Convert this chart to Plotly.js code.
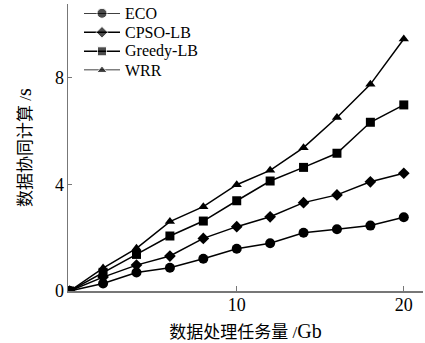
<!DOCTYPE html>
<html><head><meta charset="utf-8">
<script src="https://cdn.plot.ly/plotly-3.0.1.min.js"></script>
<style>html,body{margin:0;padding:0;background:#fff}#chart{width:425px;height:343px}</style>
</head><body><div id="chart"></div>
<script>
const xVals = [0, 2, 4, 6, 8, 10, 12, 14, 16, 18, 20];
const eco = [0, 0.28, 0.69, 0.87, 1.21, 1.58, 1.79, 2.18, 2.31, 2.45, 2.76];
const cpso = [0, 0.52, 0.97, 1.31, 1.97, 2.41, 2.78, 3.31, 3.6, 4.09, 4.41];
const greedy = [0, 0.7, 1.37, 2.06, 2.62, 3.38, 4.12, 4.63, 5.16, 6.32, 6.97];
const wrr = [0, 0.86, 1.6, 2.6, 3.16, 3.98, 4.52, 5.37, 6.5, 7.74, 9.44];
const names = ["ECO", "CPSO-LB", "Greedy-LB", "WRR"];
const symbols = ["circle", "diamond", "square", "triangle-up"];
const sizes = [10, 9, 9, 9];
const series = [eco, cpso, greedy, wrr];
const xTicks = [10, 20];
const yTicks = [0, 4, 8];

const serif = "Liberation Serif, Times New Roman, Noto Sans CJK SC, serif";
const traces = series.map((s, i) => ({
  x: xVals, y: s, name: names[i], type: "scatter", mode: "lines+markers",
  showlegend: false,
  line: {color: "#000", width: 1.5},
  marker: {symbol: symbols[i], size: sizes[i], color: "#000"}
}));

// custom legend drawn on an overlay axis for tight row spacing
const legendTraces = names.map((n, i) => ({
  x: [0, 0.5, 1], y: [i, i, i], xaxis: "x2", yaxis: "y2", type: "scatter",
  mode: "lines+markers", showlegend: false, cliponaxis: false, hoverinfo: "skip",
  line: {color: "#000", width: 1.5},
  marker: {symbol: symbols[i], size: [0, sizes[i], 0], color: "#000"}
}));
const legendLabels = names.map((n, i) => ({
  xref: "x2", yref: "y2", x: 1, y: i, text: n, showarrow: false,
  xanchor: "left", yanchor: "middle", xshift: 4, borderpad: 0,
  font: {family: serif, size: 16, color: "#000"}
}));

const layout = {
  width: 425, height: 343,
  margin: {l: 68, r: 2, t: 4, b: 52},
  paper_bgcolor: "#fff", plot_bgcolor: "#fff",
  font: {family: serif, size: 18, color: "#000"},
  showlegend: false,
  xaxis: {
    range: [-0.1, 21.15], tickvals: xTicks, ticktext: xTicks.map(String),
    showgrid: false, zeroline: false, showline: true, linecolor: "#777", linewidth: 1.5,
    ticks: "inside", ticklen: 5, tickcolor: "#777", ticklabelstandoff: -3,
    tickfont: {family: serif, size: 18},
    title: {text: "数据处理任务量 /<span style='font-size:20px'>Gb</span>", font: {family: serif, size: 17}, standoff: 12}
  },
  yaxis: {
    range: [0, 10.75], tickvals: yTicks, ticktext: yTicks.map(String),
    showgrid: false, zeroline: false, showline: true, linecolor: "#777", linewidth: 1.5,
    ticks: "inside", ticklen: 4, tickcolor: "#777", ticklabelstandoff: -1,
    tickfont: {family: serif, size: 18},
    title: {text: "数据协同计算 /<span style='font-size:20px'>s</span>", font: {family: serif, size: 17}, standoff: 19}
  },
  xaxis2: {domain: [0.045, 0.1465], range: [0, 1], visible: false, fixedrange: true, anchor: "y2"},
  yaxis2: {domain: [0.769, 0.9676], range: [3, 0], visible: false, fixedrange: true, anchor: "x2"},
  annotations: legendLabels
};
Plotly.newPlot("chart", traces.concat(legendTraces), layout, {displayModeBar: false, staticPlot: true});
</script></body></html>
